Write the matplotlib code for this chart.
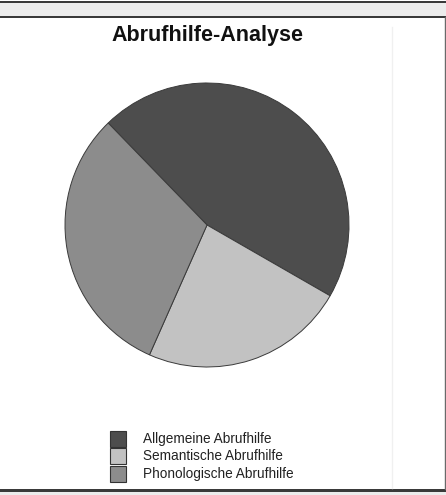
import matplotlib
matplotlib.use("Agg")
import matplotlib.pyplot as plt
from matplotlib.patches import Rectangle
from matplotlib.lines import Line2D

# Data
categories = ["Allgemeine Abrufhilfe", "Semantische Abrufhilfe", "Phonologische Abrufhilfe"]
counts = [41, 21, 28]
colors = ["#4d4d4d", "#c2c2c2", "#8c8c8c"]
title = "Abrufhilfe-Analyse"

W, H = 446, 495
fig = plt.figure(figsize=(W / 100, H / 100), dpi=100)
fig.patch.set_facecolor("white")


def fx(px):
    return px / W


def fy(py):
    return 1 - py / H


# Window chrome: top bar and frame lines
fig.patches.append(Rectangle((0, fy(16)), 1, fy(2) - fy(16), transform=fig.transFigure,
                             facecolor="#ececec", edgecolor="none", zorder=0))
for y, lw, c in [(1.5, 2.0, "#3a3a3a"), (16.5, 2.0, "#3a3a3a"), (490, 3.0, "#3a3a3a")]:
    fig.lines.append(Line2D([0, 1], [fy(y), fy(y)], transform=fig.transFigure,
                            color=c, lw=lw * 0.72))
fig.patches.append(Rectangle((0, 0), 1, fy(492), transform=fig.transFigure,
                             facecolor="#ececec", edgecolor="none", zorder=0))
fig.lines.append(Line2D([fx(444.5), fx(444.5)], [fy(17), fy(489)], transform=fig.transFigure,
                        color="#6a6a6a", lw=1.0))
fig.lines.append(Line2D([fx(392), fx(392)], [fy(27), fy(488)], transform=fig.transFigure,
                        color="#f0f0f0", lw=1.0))

# Pie
cx, cy, r = 207, 225, 142
ax = fig.add_axes([fx(cx - r), fy(cy + r), 2 * r / W, 2 * r / H])
ax.pie(counts, colors=colors, startangle=134.1, counterclock=False,
       wedgeprops=dict(edgecolor="#3a3a3a", linewidth=0.7))
ax.set_xlim(-1.0, 1.0)
ax.set_ylim(-1.0, 1.0)
ax.set_aspect("equal")
ax.axis("off")

fig.text(fx(207), fy(36), title, ha="center", va="center",
         fontsize=15.5, fontweight="bold", family="Liberation Sans", color="#111111")

# Legend
box_x0, box_x1 = 110, 126
rows = [(431, 447), (448, 464), (466, 482)]
for (y0, y1), c, lab in zip(rows, colors, categories):
    fig.patches.append(Rectangle((fx(box_x0), fy(y1)), fx(box_x1) - fx(box_x0), fy(y0) - fy(y1),
                                 transform=fig.transFigure, facecolor=c,
                                 edgecolor="#333333", linewidth=0.8))
    fig.text(fx(143), fy((y0 + y1) / 2), lab, ha="left", va="center",
             fontsize=9.8, family="Liberation Sans", color="#222222")

fig.savefig("out.png", dpi=100)
